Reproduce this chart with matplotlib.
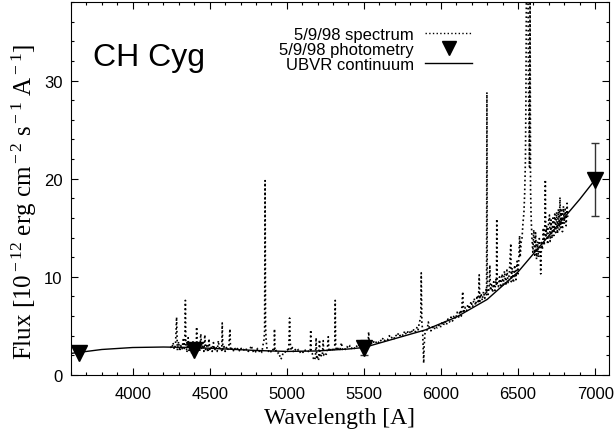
import numpy as np
import matplotlib
matplotlib.use("Agg")
import matplotlib.pyplot as plt
from matplotlib.lines import Line2D
from matplotlib.ticker import MultipleLocator

plt.rcParams['font.family'] = ['Liberation Sans', 'DejaVu Sans']
plt.rcParams['mathtext.fontset'] = 'custom'
plt.rcParams['mathtext.rm'] = 'Liberation Serif'
plt.rcParams['mathtext.it'] = 'Liberation Serif:italic'

# 5/9/98 spectrum
spec_wl = [
    4245, 4255, 4262, 4270, 4278, 4285, 4290, 4298, 4305, 4312,
    4320, 4328, 4335, 4340, 4342, 4345, 4352, 4360, 4366, 4374,
    4382, 4390, 4398, 4405, 4412, 4415, 4419, 4428, 4435, 4442,
    4447, 4455, 4462, 4468, 4473, 4480, 4488, 4495, 4500, 4508,
    4516, 4524, 4532, 4540, 4548, 4556, 4563, 4570, 4578, 4581,
    4585, 4592, 4600, 4608, 4615, 4624, 4631, 4635, 4643, 4652,
    4660, 4670, 4680, 4690, 4700, 4710, 4720, 4730, 4740, 4750,
    4760, 4770, 4780, 4790, 4800, 4810, 4820, 4830, 4838, 4845,
    4852, 4856, 4859, 4862, 4866, 4872,
    4880, 4890, 4900, 4910, 4918, 4920, 4923, 4932, 4940, 4948,
    4955, 4961, 4968, 4975, 4985, 4995, 5005, 5012, 5018, 5022,
    5028, 5036, 5045, 5055, 5065, 5075, 5085, 5095, 5105, 5115,
    5125, 5135, 5145, 5152, 5155, 5158, 5165, 5172, 5180, 5186,
    5190, 5194, 5200, 5206, 5212, 5216, 5222, 5230, 5236, 5240,
    5248, 5256, 5262, 5269, 5273, 5280, 5290, 5298, 5305, 5311,
    5314, 5317,
    5325, 5335, 5345, 5355, 5360, 5370, 5380, 5390, 5400, 5410,
    5420, 5430, 5440, 5450, 5460, 5470, 5480, 5490, 5500, 5510,
    5520, 5528, 5531, 5535, 5545, 5555, 5565, 5575, 5585, 5595,
    5605, 5615, 5625, 5635, 5645, 5655, 5665, 5675, 5685, 5695,
    5705, 5715, 5725, 5735, 5745, 5755, 5765, 5775, 5785, 5795,
    5805, 5815, 5825, 5835, 5845, 5852, 5858, 5864, 5869, 5872,
    5876, 5881, 5885, 5888, 5891, 5896, 5903,
    5910, 5918, 5925, 5935, 5945, 5955, 5965, 5975, 5985, 5995,
    6005, 6015, 6025, 6035, 6045, 6055, 6065, 6075, 6085, 6095,
    6105, 6115, 6125, 6132, 6141, 6146, 6155, 6165, 6175, 6185,
    6195, 6205, 6215, 6225, 6235, 6243, 6248, 6252, 6260, 6268,
    6276, 6284, 6292, 6296, 6298, 6300, 6306, 6312,
    6317, 6321, 6328, 6335, 6342, 6350, 6356, 6360, 6362, 6365,
    6372, 6380, 6388, 6396, 6404, 6412, 6420, 6428, 6436, 6444,
    6453, 6456, 6462, 6470, 6478, 6486, 6494, 6500, 6506, 6510,
    6514, 6520, 6526, 6532, 6538, 6543, 6548, 6551, 6554, 6558,
    6561, 6565, 6568, 6572, 6574, 6578, 6581, 6585,
    6590, 6596, 6602, 6608, 6614, 6620, 6626, 6632, 6638, 6644,
    6647, 6652, 6658, 6664, 6670, 6674, 6677, 6680, 6686, 6692,
    6698, 6704, 6708, 6714, 6720, 6726, 6732, 6738, 6744, 6750,
    6756, 6762, 6768, 6772, 6776, 6782, 6788, 6794, 6800, 6806,
    6812, 6818, 6822,
]
spec_flux = [
    2.9, 2.7, 3.3, 2.6, 3.1, 5.9, 2.5, 3.4, 2.4, 3.0,
    2.6, 3.6, 2.7, 4.5, 7.6, 3.3, 2.3, 3.8, 2.5, 3.2,
    2.2, 3.5, 2.6, 3.1, 2.5, 4.9, 2.6, 3.4, 2.4, 4.2,
    2.6, 3.3, 2.4, 4.1, 2.6, 3.0, 2.3, 3.7, 2.6, 2.9,
    2.4, 3.3, 2.5, 2.9, 2.4, 3.5, 2.5, 2.8, 2.5, 5.3,
    2.6, 2.9, 2.4, 2.8, 2.5, 2.9, 4.7, 2.5, 2.7, 2.4,
    2.8, 2.5, 2.7, 2.4, 2.8, 2.5, 2.6, 2.4, 2.7, 2.4,
    2.6, 3.0, 2.4, 2.6, 2.3, 2.7, 2.4, 2.6, 2.3, 3.0,
    3.6, 4.5, 19.8, 5.0, 3.5, 2.6,
    2.4, 2.6, 2.3, 2.6, 2.4, 4.7, 2.4, 2.5, 2.2, 2.3,
    1.9, 1.6, 1.8, 2.2, 2.4, 2.3, 2.6, 2.4, 5.8, 3.3,
    2.5, 2.8, 2.3, 2.6, 2.4, 2.6, 2.3, 2.5, 2.3, 2.6,
    2.4, 2.5, 2.3, 2.5, 4.6, 2.4, 2.2, 1.7, 1.5, 1.9,
    3.8, 1.6, 1.8, 1.5, 3.6, 1.8, 2.0, 1.9, 3.5, 2.0,
    2.2, 2.1, 2.4, 3.9, 2.4, 2.6, 2.4, 2.7, 2.5, 3.0,
    7.6, 2.8,
    2.5, 2.8, 2.6, 3.3, 2.6, 2.8, 2.6, 2.9, 2.7, 3.0,
    2.7, 2.9, 2.7, 3.0, 2.8, 3.1, 2.8, 3.0, 2.9, 3.2,
    3.0, 3.5, 4.4, 3.1, 3.3, 3.1, 3.4, 3.2, 3.5, 3.3,
    3.6, 3.4, 3.8, 3.5, 3.7, 3.6, 4.0, 3.7, 3.9, 3.7,
    4.1, 3.9, 4.3, 4.0, 4.2, 4.0, 4.5, 4.1, 4.4, 4.2,
    4.6, 4.3, 4.7, 4.4, 4.9, 4.6, 5.2, 5.6, 6.0, 10.4,
    5.4, 4.5, 2.5, 1.2, 3.0, 4.2, 4.5,
    4.6, 5.4, 4.8, 4.5, 4.9, 4.6, 5.0, 4.8, 5.1, 4.8,
    5.3, 5.0, 5.5, 5.1, 5.7, 5.4, 5.9, 5.5, 6.1, 5.7,
    6.4, 5.9, 6.6, 6.0, 8.5, 6.3, 6.9, 6.5, 7.2, 6.7,
    7.5, 6.9, 7.8, 7.1, 8.1, 7.3, 10.2, 7.5, 8.3, 7.6,
    8.5, 7.8, 8.7, 8.1, 28.8, 9.0, 8.2, 8.9,
    11.2, 8.6, 9.2, 8.4, 9.5, 8.6, 9.8, 9.1, 15.9, 9.2,
    9.0, 10.0, 8.9, 10.3, 9.2, 10.6, 9.1, 10.7, 9.3, 10.5,
    13.4, 9.5, 10.9, 9.4, 11.2, 9.7, 11.6, 10.3, 12.2, 14.2,
    12.0, 13.5, 14.0, 15.5, 16.5, 18.5, 22.0, 28.0, 38.5, 38.5,
    38.5, 38.5, 30.0, 24.0, 21.2, 38.5, 19.0, 16.0,
    14.0, 12.5, 14.8, 12.2, 14.5, 11.8, 13.6, 12.0, 13.9, 12.4,
    10.3, 13.5, 12.8, 15.0, 13.2, 15.5, 19.9, 14.0, 15.2, 13.3,
    15.6, 16.3, 13.6, 15.8, 13.9, 16.0, 14.2, 16.4, 14.5, 16.6,
    14.4, 16.9, 14.8, 18.1, 15.0, 16.8, 14.6, 17.2, 15.4, 16.9,
    15.2, 17.5, 16.0,
]

# 5/9/98 photometry (U, B, V, R)
phot_wl = [3650, 4400, 5500, 7000]
phot_flux = [2.2, 2.5, 2.8, 19.9]
phot_err = [0.0, 0.0, 0.8, 3.7]

# UBVR continuum
cont_wl = [3600, 3650, 3800, 4000, 4200, 4400, 4600, 4800, 5000, 5200,
           5400, 5500, 5700, 5900, 6100, 6300, 6500, 6700, 6900, 7000]
cont_flux = [2.2, 2.3, 2.6, 2.8, 2.85, 2.8, 2.65, 2.5, 2.4, 2.45,
             2.65, 2.8, 3.7, 4.6, 5.9, 7.7, 10.5, 14.2, 17.9, 19.9]

W, H = 614, 435
fig = plt.figure(figsize=(W / 100, H / 100), dpi=100)
ax = fig.add_axes([71 / W, 59 / H, 538 / W, 373 / H])

ax.plot(spec_wl, spec_flux, ls=':', c='k', lw=1.2)
ax.plot(cont_wl, cont_flux, ls='-', c='k', lw=1.0)
ax.errorbar(phot_wl, phot_flux, yerr=phot_err, fmt='v', c='k', ms=12,
            ecolor='#333333', elinewidth=1.0, capsize=3, capthick=1.0)

ax.set_xlim(3600, 7090)
ax.set_ylim(0, 38)
ax.xaxis.set_minor_locator(MultipleLocator(100))
ax.yaxis.set_major_locator(MultipleLocator(10))
ax.yaxis.set_minor_locator(MultipleLocator(2))
ax.set_xticks([4000, 4500, 5000, 5500, 6000, 6500, 7000])
ax.tick_params(which='both', direction='in', top=True, right=True, width=0.8)
ax.tick_params(which='major', length=5, labelsize=12)
ax.tick_params(which='minor', length=2.5)
ax.tick_params(axis='x', pad=8)
ax.tick_params(axis='y', pad=6)
for s in ax.spines.values():
    s.set_linewidth(0.8)

fig.text(340 / W, 1 - 419 / H, 'Wavelength [A]', family='Liberation Serif',
         fontsize=17, ha='center', va='center')
fig.text(24 / W, 1 - 202 / H,
         r'Flux [10$^{\rm -12}$ erg cm$^{\rm -2}$ s$^{\rm -1}$ A$^{\rm -1}$]',
         family='Liberation Serif', fontsize=18, rotation=90,
         ha='center', va='center')
fig.text(93 / W, 1 - 66 / H, 'CH Cyg', fontsize=23, ha='left', va='baseline')

handles = [
    Line2D([], [], ls=':', c='k', lw=1.0),
    Line2D([], [], ls='', marker='v', c='k', ms=10),
    Line2D([], [], ls='-', c='k', lw=1.0),
]
labels = ['5/9/98 spectrum', '5/9/98 photometry', 'UBVR continuum']
ax.legend(handles, labels, loc='upper right', bbox_to_anchor=(472 / W, 1 - 28 / H),
          bbox_transform=fig.transFigure, frameon=False, markerfirst=False,
          fontsize=12, handlelength=2.8, handletextpad=0.7, labelspacing=0.0,
          borderpad=0, borderaxespad=0)

fig.savefig('out.png', dpi=100)
